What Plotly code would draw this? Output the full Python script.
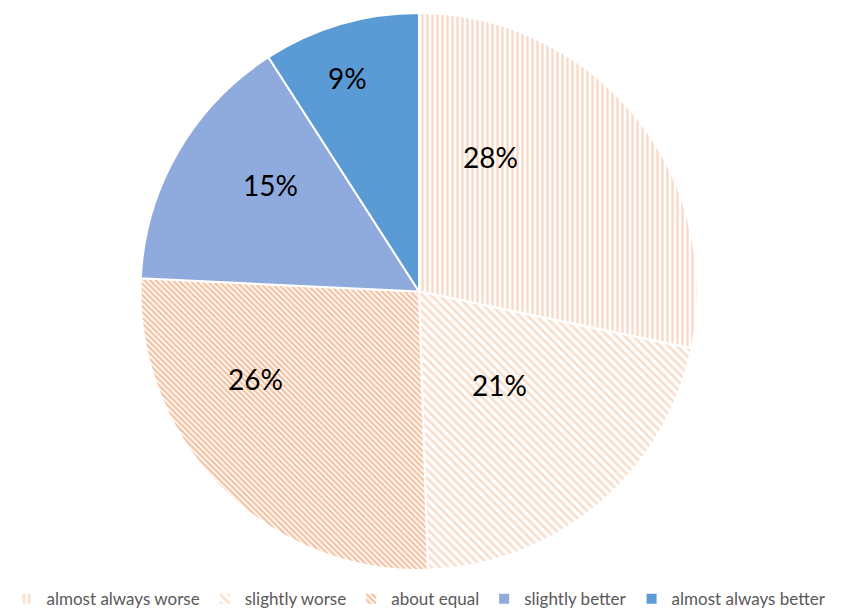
import plotly.graph_objects as go

categories = ["almost always worse", "slightly worse", "about equal",
              "slightly better", "almost always better"]
shares = [28, 21, 26, 15, 9]

# label anchor points (pixel position of each percentage label)
label_px = [(490, 157), (500, 385), (255, 379), (270, 185), (347, 78)]

fill_colors = ["white", "white", "white", "#8faadc", "#5b9bd5"]
pattern_shapes = ["|", "\\", "\\", "", ""]
pattern_fg = ["#f6b892", "#f6be9a", "#ed8240", "#8faadc", "#5b9bd5"]
pattern_size = [5, 6, 4, 8, 8]
pattern_solidity = [0.5, 0.45, 0.55, 0.3, 0.3]

W, H = 844, 613
M = dict(l=0, r=6, t=13, b=43, autoexpand=False)
font_family = "Lato, Carlito, Calibri, sans-serif"

fig = go.Figure(go.Pie(
    labels=categories,
    values=shares,
    sort=False,
    direction="clockwise",
    rotation=0,
    textinfo="none",
    marker=dict(
        colors=fill_colors,
        line=dict(color="white", width=2),
        pattern=dict(shape=pattern_shapes, fgcolor=pattern_fg,
                     bgcolor="white", size=pattern_size,
                     solidity=pattern_solidity, fillmode="overlay"),
    ),
    hoverinfo="label+value",
))

pw = W - M["l"] - M["r"]
ph = H - M["t"] - M["b"]
for v, (px, py) in zip(shares, label_px):
    fig.add_annotation(
        text=f"{v}%", xref="paper", yref="paper",
        x=(px - M["l"]) / pw, y=(H - M["b"] - py) / ph,
        xanchor="center", yanchor="middle", showarrow=False,
        font=dict(family=font_family, size=28, color="black"),
    )

fig.update_layout(
    width=W, height=H,
    margin=M,
    paper_bgcolor="white",
    showlegend=True,
    legend=dict(orientation="h", x=0.5, xanchor="center", y=-0.02, yanchor="top",
                font=dict(family=font_family, size=17, color="#595959"),
                itemwidth=30, tracegroupgap=0),
)

fig.write_html("out.html")
